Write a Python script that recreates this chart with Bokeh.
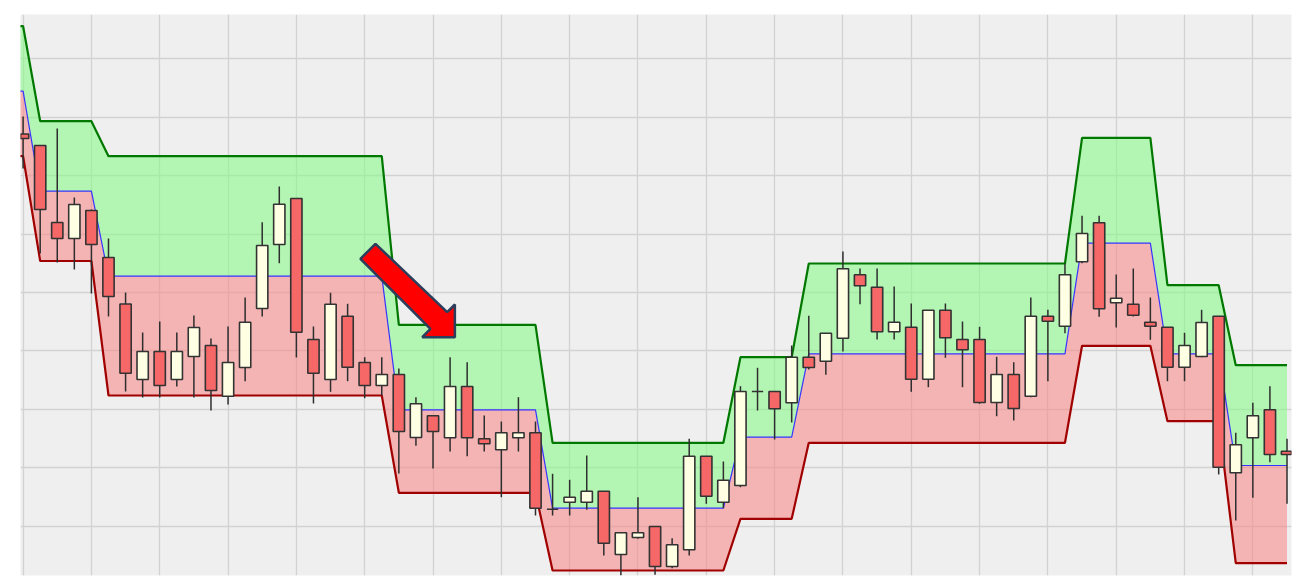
from bokeh.plotting import figure
from bokeh.models import Range1d, FixedTicker, SingleIntervalTicker, ColumnDataSource
from bokeh.embed import file_html
from bokeh.resources import INLINE

# ---- candle data (price units) ----
idx = list(range(75))
opens = [450.5, 439.0, 362.0, 346.0, 374.0, 327.0, 280.5, 205.0, 233.0, 205.0,
         228.0, 239.0, 188.3, 217.0, 276.0, 340.0, 386.0, 245.0, 205.0, 268.3,
         222.0, 199.0, 210.0, 147.0, 168.7, 146.7, 198.0, 145.7, 134.7, 146.7,
         151.7, 75.3, 82.3, 82.3, 93.3, 30.0, 47.0, 58.0, 18.0, 34.7,
         128.3, 82.3, 99.0, 193.0, 193.0, 181.7, 227.3, 223.3, 246.3, 309.7,
         297.3, 252.7, 257.3, 205.3, 274.3, 245.0, 245.0, 182.0, 210.0, 188.3,
         268.3, 258.3, 322.7, 361.7, 281.7, 280.3, 262.3, 257.3, 217.3, 228.0,
         268.3, 111.7, 146.7, 174.7, 133.3]
highs = [468.0, 439.0, 456.0, 387.0, 375.0, 346.0, 292.0, 252.0, 263.0, 252.0,
         269.0, 246.0, 258.0, 287.0, 362.3, 398.0, 386.0, 258.0, 291.7, 280.7,
         227.3, 227.3, 216.0, 187.3, 169.0, 227.3, 222.3, 169.0, 163.0, 187.3,
         163.0, 110.7, 104.7, 129.0, 93.3, 51.7, 87.3, 58.0, 46.3, 145.7,
         128.3, 123.0, 198.3, 216.7, 193.0, 239.0, 268.7, 251.3, 333.0, 316.0,
         316.0, 298.0, 281.0, 274.3, 281.0, 263.0, 257.7, 227.7, 222.3, 287.0,
         274.7, 321.0, 368.7, 368.7, 310.0, 316.0, 287.0, 257.3, 251.7, 274.7,
         268.3, 151.7, 181.7, 198.3, 145.7]
lows = [416.0, 331.0, 322.0, 315.0, 291.0, 268.0, 193.0, 187.0, 187.0, 198.0,
        187.0, 174.0, 180.0, 203.3, 268.0, 321.3, 227.0, 181.0, 192.7, 203.3,
        186.3, 189.0, 111.0, 138.7, 116.0, 133.0, 128.3, 133.0, 87.3, 133.0,
        69.0, 69.0, 69.0, 74.7, 29.0, 9.0, 45.7, 9.7, 16.3, 29.0,
        80.7, 76.3, 97.3, 174.0, 145.0, 162.0, 215.0, 209.7, 233.0, 280.3,
        245.0, 245.0, 192.7, 197.3, 226.7, 197.3, 180.7, 168.3, 164.0, 187.3,
        203.3, 251.3, 321.3, 267.7, 257.0, 268.0, 244.7, 203.3, 203.3, 227.3,
        110.0, 64.0, 86.7, 122.3, 80.7]
closes = [446.0, 375.0, 346.0, 380.0, 340.0, 288.0, 211.3, 233.0, 199.0, 233.0,
          257.0, 194.0, 222.0, 262.3, 339.0, 380.3, 252.3, 211.3, 280.3, 217.3,
          199.0, 210.0, 153.0, 180.7, 153.0, 198.0, 146.7, 140.7, 151.7, 151.7,
          76.3, 75.3, 87.3, 93.3, 41.3, 51.7, 51.7, 18.0, 39.7, 128.3,
          88.3, 104.3, 193.0, 193.0, 175.7, 227.3, 217.0, 251.3, 315.7, 298.7,
          252.7, 262.3, 205.3, 274.3, 246.7, 234.7, 182.0, 210.0, 176.0, 268.3,
          263.3, 309.7, 351.0, 275.7, 286.3, 269.3, 258.3, 217.3, 239.0, 262.0,
          117.3, 139.7, 168.7, 130.0, 130.0]

# ---- channel (bands), starting one bar before the first visible candle ----
band_idx = list(range(-1, 75))
upper = [558.3, 558.3,
         463.3, 463.3, 463.3, 463.3,
         428.3, 428.3, 428.3, 428.3, 428.3, 428.3, 428.3, 428.3, 428.3,
         428.3, 428.3, 428.3, 428.3, 428.3, 428.3, 428.3, 428.3,
         259.7, 259.7, 259.7, 259.7, 259.7, 259.7, 259.7, 259.7, 259.7,
         141.7, 141.7, 141.7, 141.7, 141.7, 141.7, 141.7, 141.7, 141.7, 141.7, 141.7,
         227.3, 227.3, 227.3, 227.3,
         321.0, 321.0, 321.0, 321.0, 321.0, 321.0, 321.0, 321.0,
         321.0, 321.0, 321.0, 321.0, 321.0, 321.0, 321.0, 321.0,
         446.7, 446.7, 446.7, 446.7, 446.7,
         299.3, 299.3, 299.3, 299.3,
         219.3, 219.3, 219.3, 219.3]
middle = [493.3, 493.3,
          393.3, 393.3, 393.3, 393.3,
          308.3, 308.3, 308.3, 308.3, 308.3, 308.3, 308.3, 308.3, 308.3,
          308.3, 308.3, 308.3, 308.3, 308.3, 308.3, 308.3, 308.3,
          174.7, 174.7, 174.7, 174.7, 174.7, 174.7, 174.7, 174.7, 174.7,
          76.3, 76.3, 76.3, 76.3, 76.3, 76.3, 76.3, 76.3, 76.3, 76.3, 76.3,
          147.3, 147.3, 147.3, 147.3,
          230.7, 230.7, 230.7, 230.7, 230.7, 230.7, 230.7, 230.7,
          230.7, 230.7, 230.7, 230.7, 230.7, 230.7, 230.7, 230.7,
          341.3, 341.3, 341.3, 341.3, 341.3,
          230.7, 230.7, 230.7, 230.7,
          119.0, 119.0, 119.0, 119.0]
lower = [428.3, 428.3,
         323.5, 323.5, 323.5, 323.5,
         189.0, 189.0, 189.0, 189.0, 189.0, 189.0, 189.0, 189.0, 189.0,
         189.0, 189.0, 189.0, 189.0, 189.0, 189.0, 189.0, 189.0,
         91.7, 91.7, 91.7, 91.7, 91.7, 91.7, 91.7, 91.7, 91.7,
         14.0, 14.0, 14.0, 14.0, 14.0, 14.0, 14.0, 14.0, 14.0, 14.0, 14.0,
         65.7, 65.7, 65.7, 65.7,
         141.7, 141.7, 141.7, 141.7, 141.7, 141.7, 141.7, 141.7,
         141.7, 141.7, 141.7, 141.7, 141.7, 141.7, 141.7, 141.7,
         238.7, 238.7, 238.7, 238.7, 238.7,
         163.3, 163.3, 163.3, 163.3,
         21.3, 21.3, 21.3, 21.3]

# ---- annotation arrow (data coordinates) ----
arrow_x = [20.63, 24.83, 25.28, 25.28, 23.37, 23.85, 19.75]
arrow_y = [340.7, 272.3, 280.0, 247.3, 247.3, 255.7, 325.7]

RED_BODY = "#f66767"
CREAM_BODY = "#ffffe3"

body_colors = [CREAM_BODY if c >= o else RED_BODY for o, c in zip(opens, closes)]
candles = ColumnDataSource(dict(x=idx, open=opens, high=highs, low=lows, close=closes,
                                color=body_colors))
bands = ColumnDataSource(dict(x=band_idx, upper=upper, middle=middle, lower=lower))

p = figure(width=1296, height=577,
           x_range=Range1d(-0.152, 74.263), y_range=Range1d(9, 570),
           output_backend="svg", toolbar_location=None,
           x_axis_location=None, y_axis_location=None,
           min_border_left=20, min_border_right=5, min_border_top=14, min_border_bottom=2,
           background_fill_color="#efefef", border_fill_color="white",
           outline_line_color=None)

p.xgrid.ticker = FixedTicker(ticks=list(range(0, 76, 4)))
p.ygrid.ticker = SingleIntervalTicker(interval=58.4, num_minor_ticks=0)
p.grid.grid_line_color = "#d2d2d2"
p.grid.grid_line_width = 1.3

# channel fills (slightly transparent so the grid shows through)
p.varea(x="x", y1="middle", y2="upper", source=bands,
        fill_color=(138, 248, 138), fill_alpha=0.6)
p.varea(x="x", y1="lower", y2="middle", source=bands,
        fill_color=(247, 140, 140), fill_alpha=0.6)

# channel lines
p.line(x="x", y="upper", source=bands, line_color="#007800", line_width=2.2)
p.line(x="x", y="lower", source=bands, line_color="#a00000", line_width=2.2)
p.line(x="x", y="middle", source=bands, line_color="#3535ff", line_width=1.2)

# candles
p.segment(x0="x", y0="high", x1="x", y1="low", source=candles,
          line_color="#2e2e2e", line_width=1.5)
p.vbar(x="x", width=0.66, top="open", bottom="close", source=candles,
       fill_color="color", line_color="#333333", line_width=1.6)

# arrow
p.patch(arrow_x, arrow_y, fill_color="#ff0000", line_color="#2b3f5c", line_width=2.5)

open("out.html", "w").write(file_html(p, INLINE))
